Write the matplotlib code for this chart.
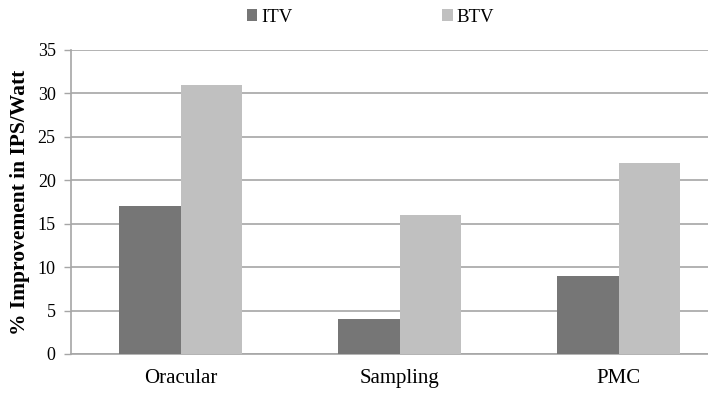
import matplotlib
matplotlib.use("Agg")
import matplotlib.pyplot as plt
import numpy as np

categories = ["Oracular", "Sampling", "PMC"]
series_names = ["ITV", "BTV"]
itv = [17, 4, 9]
btv = [31, 16, 22]
yticks = [0, 5, 10, 15, 20, 25, 30, 35]

plt.rcParams["font.family"] = ["Liberation Serif", "DejaVu Serif"]

fig = plt.figure(figsize=(7.08, 3.96), dpi=100)
# axes extends a little past the right edge of the figure
ax = fig.add_axes([71 / 708, 1 - 354 / 396, 657 / 708, 304 / 396])

x = np.arange(len(categories))
w = 0.283
ax.bar(x - w / 2, itv, width=w, color="#767676", label=series_names[0], zorder=3)
ax.bar(x + w / 2, btv, width=w, color="#c0c0c0", label=series_names[1], zorder=3)

ax.set_xlim(-0.5, 2.5)
ax.set_ylim(0, 35)
ax.set_yticks(yticks)
ax.set_xticks(x)
ax.set_xticklabels(categories, fontsize=15)
ax.tick_params(axis="x", length=0, pad=11)
ax.tick_params(axis="y", length=5, width=1, color="#a6a6a6", labelsize=13, pad=6)
ax.yaxis.grid(True, color="#a6a6a6", linewidth=1.2, zorder=0)
ax.set_axisbelow(True)
for s in ["top", "right"]:
    ax.spines[s].set_visible(False)
for s in ["left", "bottom"]:
    ax.spines[s].set_color("#a6a6a6")
    ax.spines[s].set_linewidth(1.2)

ax.set_ylabel("% Improvement in IPS/Watt", fontsize=15.5, fontweight="bold")
ax.yaxis.set_label_coords(-0.063, 0.5)

fig.legend(loc="center left", bbox_to_anchor=(247 / 708, 1 - 17 / 396), ncol=2, frameon=False,
           fontsize=13.5, handlelength=0.55, handleheight=0.55, handletextpad=0.2,
           columnspacing=8.0, borderaxespad=0, borderpad=0)

fig.savefig("out.png", dpi=100)
